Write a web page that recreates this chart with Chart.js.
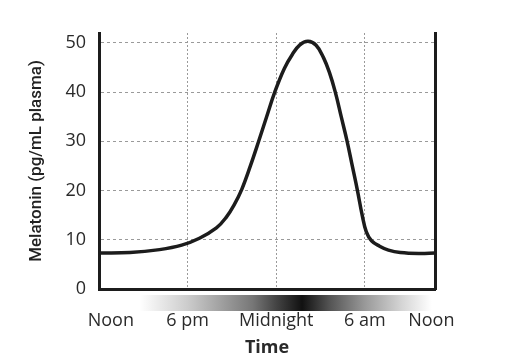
<!DOCTYPE html>
<html>
<head>
<meta charset="utf-8">
<script src="https://cdn.jsdelivr.net/npm/chart.js@4"></script>
<style>
html,body{margin:0;background:#fff}
</style>
</head>
<body>
<canvas id="c" width="512" height="363"></canvas>
<script>
// hours after noon -> melatonin (pg/mL)
const hours=[0,2.1,4.1,5.6,6.8,7.95,8.6,9.15,9.66,10.25,10.81,11.35,11.9,12.55,13.1,13.6,14.15,14.7,15.2,15.6,16.0,16.4,16.8,17.15,17.5,17.82,18.1,18.45,19.0,19.6,20.4,21.7,22.75];
const melatonin=[7.3,7.4,8.0,8.9,10.3,12.4,14.5,17.1,20.2,25,30,35,40,44.8,47.7,49.6,50.3,49.5,47,44,40,35,30,25,20,15,11.6,9.8,8.7,7.9,7.4,7.2,7.3];
const timeTicks=[0.8,6,12,18,22.5];
const timeLabels=["Noon","6 pm","Midnight","6 am","Noon"];
const yTicks=[0,10,20,30,40,50];

const ink="#1c1c1c";
const gridCol="#9a9a9a";
const tickFont={family:"'Open Sans', sans-serif",size:18};

// dark band under the axis (night)
const nightBar={
id:"nightBar",
afterDraw(chart){
const {ctx,chartArea:a,scales:{x}}=chart;
const stops=[[2.75,"#ffffff"],[6,"#cccccc"],[10.4,"#777777"],[12,"#444444"],[13.75,"#111111"],[15.65,"#555555"],[18,"#999999"],[20.5,"#d5d5d5"],[22.54,"#ffffff"]];
const x0=x.getPixelForValue(stops[0][0]);
const x1=x.getPixelForValue(stops[stops.length-1][0]);
const g=ctx.createLinearGradient(x0,0,x1,0);
stops.forEach(s=>g.addColorStop((x.getPixelForValue(s[0])-x0)/(x1-x0),s[1]));
ctx.save();
ctx.fillStyle=g;
ctx.fillRect(x0,a.bottom+6,x1-x0,16);
ctx.restore();
}
};

new Chart(document.getElementById("c"),{
type:"line",
data:{datasets:[{
data:hours.map((h,i)=>({x:h,y:melatonin[i]})),
borderColor:ink,
borderWidth:3.5,
pointRadius:0,
tension:0.4,
fill:false
}]},
options:{
responsive:false,
animation:false,
layout:{padding:{top:33,right:77,left:0,bottom:0}},
plugins:{legend:{display:false},tooltip:{enabled:false}},
scales:{
x:{
type:"linear",min:0,max:22.75,
afterBuildTicks:s=>{s.ticks=timeTicks.map(v=>({value:v}));},
afterFit:s=>{s.height=74;},
ticks:{autoSkip:false,maxRotation:0,padding:21,color:"#2a2a2a",font:tickFont,
callback:(v,i)=>timeLabels[i]},
grid:{drawTicks:false,lineWidth:1,
color:c=>(c.tick&&[6,12,18].includes(c.tick.value))?gridCol:"rgba(0,0,0,0)"},
border:{color:ink,width:3,dash:[2,2]},
title:{display:true,text:"Time",color:"#2a2a2a",
font:{family:"'Open Sans', sans-serif",size:18,weight:"bold"},padding:{top:0,bottom:4}}
},
y:{
min:0,max:52,
afterBuildTicks:s=>{s.ticks=yTicks.map(v=>({value:v}));},
afterFit:s=>{s.width=99;},
ticks:{padding:13,color:"#2a2a2a",font:tickFont},
grid:{drawTicks:false,lineWidth:1,
color:c=>(c.tick&&c.tick.value>0)?gridCol:"rgba(0,0,0,0)"},
border:{color:ink,width:3,dash:[3,3]},
title:{display:true,text:"Melatonin (pg/mL plasma)",color:"#222",
font:{family:"Roboto, sans-serif",size:17,weight:"500"},padding:{top:27,bottom:0}}
},
y2:{
position:"right",min:0,max:52,
afterFit:s=>{s.width=0;},
ticks:{display:false},
grid:{display:false},
border:{color:ink,width:3}
}
}
},
plugins:[nightBar]
});
</script>
</body>
</html>
